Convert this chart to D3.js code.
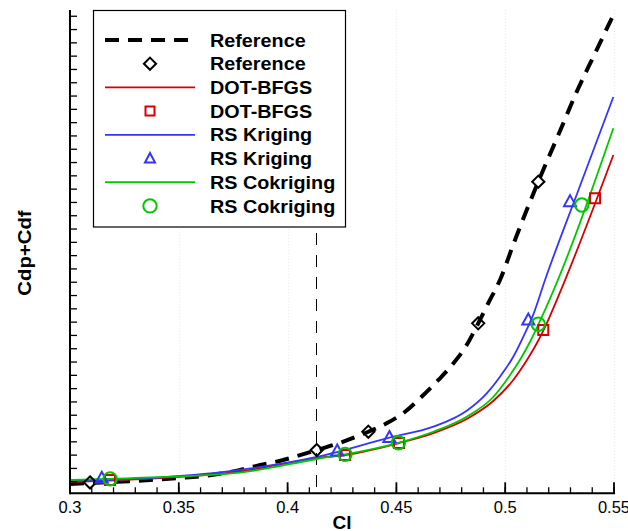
<!DOCTYPE html>
<html><head><meta charset="utf-8">
<script src="https://cdn.jsdelivr.net/npm/d3@7"></script>
<style>
html,body{margin:0;padding:0;background:#fff;}
svg{display:block;font-family:"Liberation Sans",Arial,Helvetica,sans-serif;}
</style></head>
<body><svg id="c" width="628" height="531"></svg>
<script>
// ---- data ----
const refCl   = [0.3000,0.3092,0.3244,0.3368,0.3506,0.3635,0.3750,0.3874,0.3980,0.4057,0.4134,0.4241,0.4371,0.4455,0.4540,0.4616,0.4693,0.4762,0.4823,0.4876,0.4922,0.4976,0.5045,0.5152,0.5244,0.5329,0.5413,0.5497];
const refCd   = [0.00983,0.00990,0.01002,0.01013,0.01028,0.01047,0.01077,0.01126,0.01163,0.01200,0.01238,0.01293,0.01376,0.01439,0.01526,0.01639,0.01765,0.01890,0.02028,0.02191,0.02342,0.02517,0.02818,0.03256,0.03607,0.03933,0.04222,0.04510];
const refPtCl = [0.3092,0.4134,0.4371,0.4876,0.5152];
const refPtCd = [0.00995,0.01238,0.01376,0.02191,0.03256];

const dotCl   = [0.3000,0.3368,0.3781,0.4134,0.4264,0.4512,0.4670,0.4823,0.4945,0.5037,0.5100,0.5146,0.5183,0.5237,0.5497];
const dotCd   = [0.00998,0.01024,0.01077,0.01178,0.01201,0.01291,0.01366,0.01472,0.01607,0.01765,0.01915,0.02043,0.02163,0.02366,0.03457];
const dotPtCl = [0.3184,0.4264,0.4512,0.5175,0.5413];
const dotPtCd = [0.01013,0.01201,0.01291,0.02141,0.03131];

const krgCl   = [0.3000,0.3368,0.3735,0.4134,0.4468,0.4670,0.4823,0.4915,0.4976,0.5037,0.5083,0.5129,0.5183,0.5335,0.5497];
const krgCd   = [0.01005,0.01028,0.01080,0.01186,0.01332,0.01414,0.01534,0.01665,0.01790,0.01940,0.02090,0.02257,0.02517,0.03186,0.03893];
const krgPtCl = [0.3146,0.4228,0.4468,0.5106,0.5298];
const krgPtCd = [0.01026,0.01231,0.01332,0.02216,0.03106];

const ckCl    = [0.3000,0.3368,0.3781,0.4134,0.4264,0.4509,0.4670,0.4823,0.4945,0.5013,0.5073,0.5116,0.5152,0.5203,0.5497];
const ckCd    = [0.01013,0.01032,0.01069,0.01171,0.01206,0.01293,0.01376,0.01489,0.01637,0.01780,0.01930,0.02058,0.02182,0.02366,0.03658];
const ckPtCl  = [0.3184,0.4264,0.4509,0.5152,0.5352];
const ckPtCd  = [0.01022,0.01206,0.01293,0.02184,0.03081];

const designCl = 0.413;
const xTickLabels = ["0.3","0.35","0.4","0.45","0.5","0.55"];
const xMajor = [0.30,0.35,0.40,0.45,0.50,0.55];
const xMinor = d3.range(0,26).map(i=>0.30+i*0.01);
const yTicks = d3.range(0,36).map(i=>0.010+i*0.001);
const legendLabels = ["Reference","Reference","DOT-BFGS","DOT-BFGS","RS Kriging","RS Kriging","RS Cokriging","RS Cokriging"];

// ---- drawing ----
const svg = d3.select("#c");
const L=70, R=614, T=10, B=493.3;
const x = d3.scaleLinear().domain([0.30,0.55]).range([L,R]);
const y = d3.scaleLinear().domain([0.00913,0.04547]).range([B,T]);

const RED="#d80000", BLUE="#3535ff", GREEN="#00c800";

svg.append("defs").append("clipPath").attr("id","clip")
  .append("rect").attr("x",L).attr("y",T-2).attr("width",R-L+1).attr("height",B-T+2);

// faint grid
svg.append("g").selectAll("line").data(xMajor.slice(1)).join("line")
  .attr("x1",d=>Math.round(x(d))+0.5).attr("x2",d=>Math.round(x(d))+0.5).attr("y1",T).attr("y2",B)
  .attr("stroke","#ebebeb").attr("stroke-width",1).attr("stroke-dasharray","1,2");

// design Cl dashed line
const xd = Math.round(x(designCl))+0.5;
svg.append("line").attr("x1",xd).attr("x2",xd).attr("y1",T+1).attr("y2",B)
  .attr("stroke","#000").attr("stroke-width",1).attr("stroke-dasharray","12,10").attr("stroke-dashoffset",-2);

const zip=(a,b)=>a.map((v,i)=>[v,b[i]]);
const line = d3.line().x(d=>x(d[0])).y(d=>y(d[1])).curve(d3.curveMonotoneX);
const g = svg.append("g").attr("clip-path","url(#clip)");

g.append("path").datum(zip(refCl,refCd)).attr("d",line).attr("fill","none")
  .attr("stroke","#000").attr("stroke-width",4).attr("stroke-dasharray","14,9");
g.append("path").datum(zip(dotCl,dotCd)).attr("d",line).attr("fill","none").attr("stroke",RED).attr("stroke-width",1.8);
g.append("path").datum(zip(krgCl,krgCd)).attr("d",line).attr("fill","none").attr("stroke",BLUE).attr("stroke-width",1.8);
g.append("path").datum(zip(ckCl,ckCd)).attr("d",line).attr("fill","none").attr("stroke",GREEN).attr("stroke-width",1.8);

const sym = {
  diamond: d3.symbol().type(d3.symbolDiamond2).size(95)(),
  square: "M-5,-5H5V5H-5Z",
  triangle: "M0,-6.5L6,4.5H-6Z",
  circle: d3.symbol().type(d3.symbolCircle).size(140)()
};
function markers(cl,cd,shape,color){
  svg.append("g").selectAll("path").data(zip(cl,cd)).join("path")
    .attr("transform",d=>`translate(${x(d[0])},${y(d[1])})`)
    .attr("d",sym[shape]).attr("fill","none").attr("stroke",color).attr("stroke-width",2);
}
markers(refPtCl,refPtCd,"diamond","#000");
markers(dotPtCl,dotPtCd,"square",RED);
markers(krgPtCl,krgPtCd,"triangle",BLUE);
markers(ckPtCl,ckPtCd,"circle",GREEN);

// axes
const ax = svg.append("g");
ax.append("line").attr("x1",L).attr("x2",R+1).attr("y1",B).attr("y2",B).attr("stroke","#000").attr("stroke-width",2);
ax.append("line").attr("x1",L).attr("x2",L).attr("y1",T).attr("y2",B+1).attr("stroke","#000").attr("stroke-width",2);
ax.selectAll(".mn").data(xMinor).join("line").attr("x1",d=>x(d)).attr("x2",d=>x(d))
  .attr("y1",B).attr("y2",B-6).attr("stroke","#000").attr("stroke-width",1.3);
ax.selectAll(".mj").data(xMajor).join("line").attr("x1",d=>x(d)).attr("x2",d=>x(d))
  .attr("y1",B).attr("y2",B-11).attr("stroke","#000").attr("stroke-width",1.8);
ax.selectAll(".yt").data(yTicks).join("line").attr("x1",L).attr("x2",L+7)
  .attr("y1",d=>y(d)).attr("y2",d=>y(d)).attr("stroke","#000").attr("stroke-width",1.3);
ax.selectAll(".xl").data(xMajor).join("text").attr("x",d=>x(d)).attr("y",512.5)
  .attr("text-anchor","middle").attr("font-size","16.5px").text((d,i)=>xTickLabels[i]);
ax.append("text").attr("x",342).attr("y",529).attr("text-anchor","middle")
  .attr("font-size","19px").attr("font-weight","bold").text("Cl");
ax.append("g").attr("transform","translate(31,253) rotate(-90) scale(1.1,1)")
  .append("text").attr("text-anchor","middle").attr("font-size","18.5px").attr("font-weight","bold").text("Cdp+Cdf");

// legend
const lg = svg.append("g");
lg.append("rect").attr("x",93.5).attr("y",10.5).attr("width",252).attr("height",216.5)
  .attr("fill","#fff").attr("stroke","#000").attr("stroke-width",1.2);
const rowY = d3.range(8).map(i=>40+i*23.7);
const legItems = [
  {t:"line",c:"#000",w:4,da:"14,9"},{t:"diamond",c:"#000"},
  {t:"line",c:RED,w:1.8},{t:"square",c:RED},
  {t:"line",c:BLUE,w:1.8},{t:"triangle",c:BLUE},
  {t:"line",c:GREEN,w:1.8},{t:"circle",c:GREEN}
];
legItems.forEach((it,i)=>{
  const cy=rowY[i];
  if(it.t==="line"){
    lg.append("line").attr("x1",105).attr("x2",195).attr("y1",cy).attr("y2",cy)
      .attr("stroke",it.c).attr("stroke-width",it.w).attr("stroke-dasharray",it.da||null);
  } else {
    const s = it.t==="square" ? "M-4.5,-4.5H4.5V4.5H-4.5Z" : it.t==="triangle" ? "M0,-5.5L5,4H-5Z" : sym[it.t];
    lg.append("path").attr("transform",`translate(150,${cy})`).attr("d",s)
      .attr("fill","none").attr("stroke",it.c).attr("stroke-width",2);
  }
  lg.append("g").attr("transform",`translate(210,${cy+6.6}) scale(1.07,1)`)
    .append("text").attr("font-size","18.5px").attr("font-weight","bold").text(legendLabels[i]);
});
</script></body></html>
